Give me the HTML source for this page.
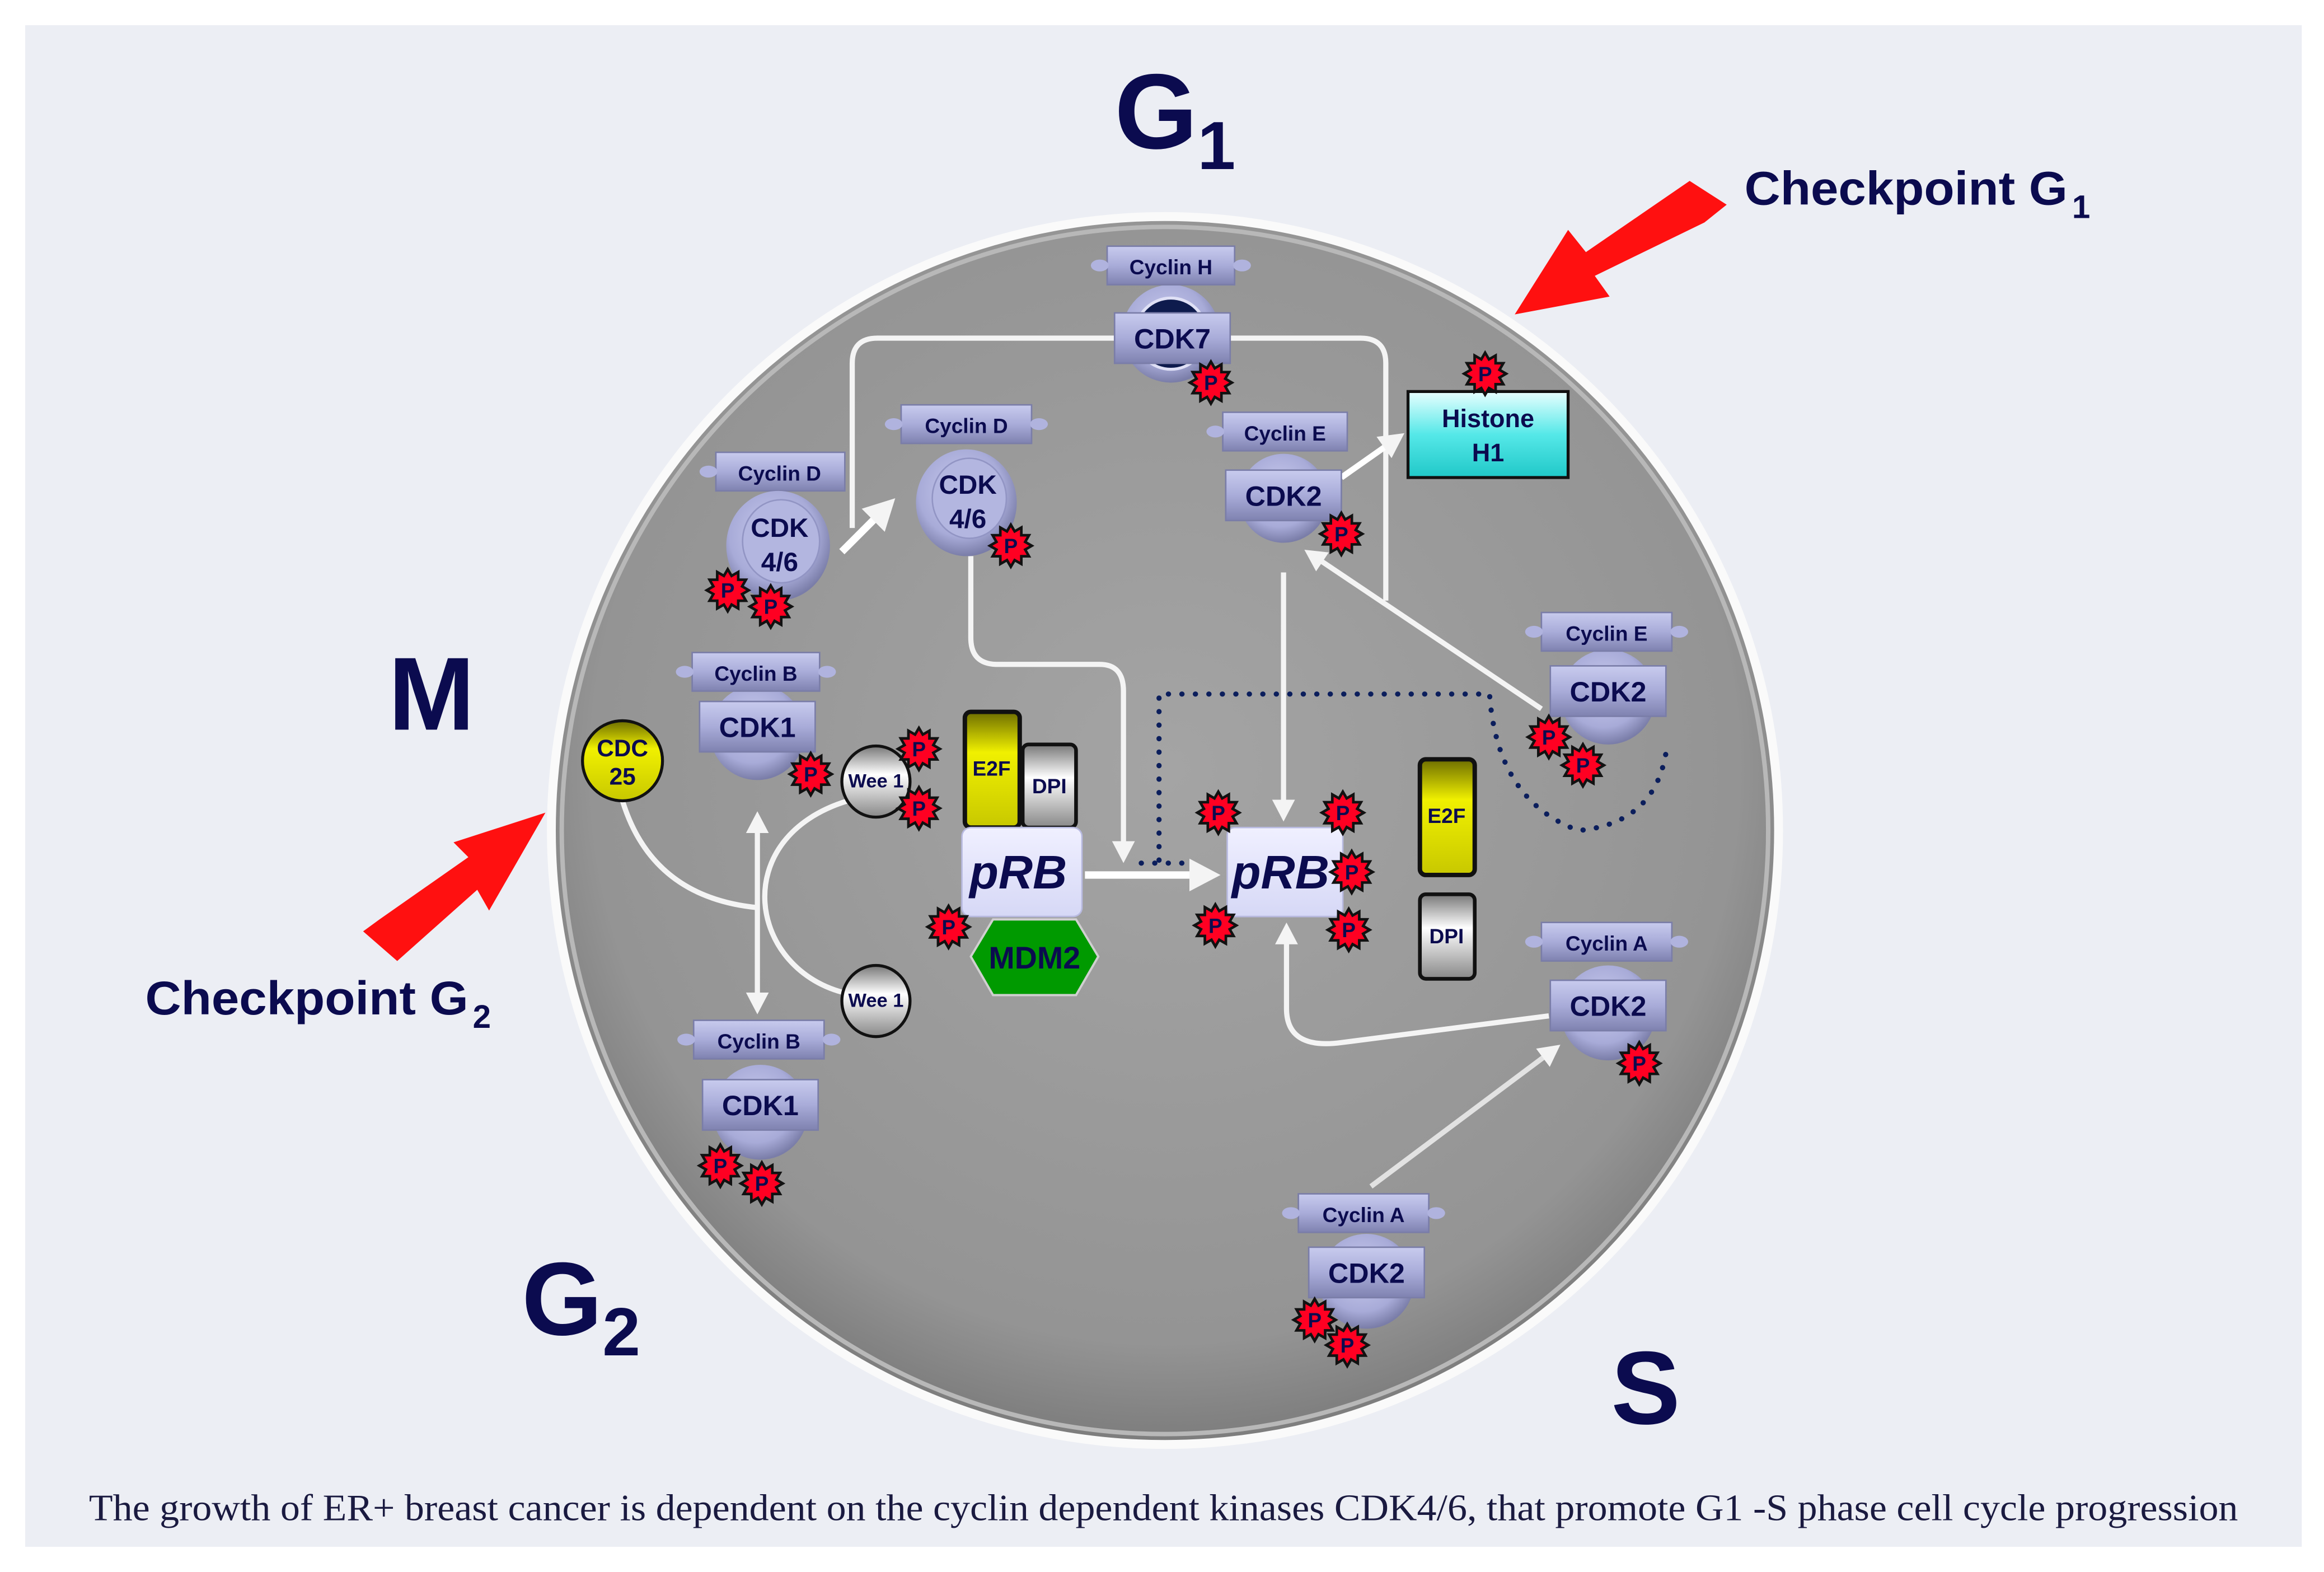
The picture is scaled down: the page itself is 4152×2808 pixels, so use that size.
<!DOCTYPE html>
<html><head><meta charset="utf-8"><style>
html,body{margin:0;padding:0;background:#fff}
svg{display:block}
text{font-family:"Liberation Sans",sans-serif;font-weight:bold;fill:#0b0b4f}
</style></head><body>
<svg width="4152" height="2808" viewBox="0 0 1568 1060" preserveAspectRatio="none" xmlns="http://www.w3.org/2000/svg">
<defs>
<radialGradient id="cell" cx="50%" cy="45%" r="55%"><stop offset="0" stop-color="#a4a4a4"/><stop offset="0.85" stop-color="#949494"/><stop offset="1" stop-color="#7c7c7c"/></radialGradient>
<linearGradient id="cyc" x1="0" y1="0" x2="0" y2="1"><stop offset="0" stop-color="#c8cbee"/><stop offset="0.5" stop-color="#a9acd9"/><stop offset="1" stop-color="#7f82b0"/></linearGradient>
<radialGradient id="cdkc" cx="45%" cy="40%" r="60%"><stop offset="0" stop-color="#c9cbee"/><stop offset="0.7" stop-color="#a8abd8"/><stop offset="1" stop-color="#7a7da8"/></radialGradient>
<linearGradient id="yel" x1="0" y1="0" x2="0" y2="1"><stop offset="0" stop-color="#6d6d00"/><stop offset="0.35" stop-color="#f0f000"/><stop offset="1" stop-color="#c8c800"/></linearGradient>
<linearGradient id="gry" x1="0" y1="0" x2="0" y2="1"><stop offset="0" stop-color="#777"/><stop offset="0.4" stop-color="#fff"/><stop offset="1" stop-color="#888"/></linearGradient>
<linearGradient id="cyan" x1="0" y1="0" x2="0" y2="1"><stop offset="0" stop-color="#e8ffff"/><stop offset="0.5" stop-color="#55e8e8"/><stop offset="1" stop-color="#20c8c8"/></linearGradient>
<linearGradient id="prb" x1="0" y1="0" x2="0" y2="1"><stop offset="0" stop-color="#f0f0ff"/><stop offset="1" stop-color="#d6d8f6"/></linearGradient>
<g id="star"><path transform="scale(1.18)" d="M12,0 L8.21,2.2 L10.39,6 L6.01,6.01 L6,10.39 L2.2,8.21 L0,12 L-2.2,8.21 L-6,10.39 L-6.01,6.01 L-10.39,6 L-8.21,2.2 L-12,0 L-8.21,-2.2 L-10.39,-6 L-6.01,-6.01 L-6,-10.39 L-2.2,-8.21 L0,-12 L2.2,-8.21 L6,-10.39 L6.01,-6.01 L10.39,-6 L8.21,-2.2 Z" fill="#ff0022" stroke="#111" stroke-width="1.5"/></g>
<marker id="ah" markerWidth="5" markerHeight="5" refX="2.5" refY="2.5" orient="auto" markerUnits="strokeWidth"><path d="M0,0.3 L4.2,2.5 L0,4.7 Z" fill="#f4f4f4"/></marker>
<marker id="ahs" markerWidth="5" markerHeight="5" refX="0.5" refY="2.5" orient="auto-start-reverse" markerUnits="strokeWidth"><path d="M0,0.3 L4.2,2.5 L0,4.7 Z" fill="#f4f4f4"/></marker>
</defs>
<rect width="1568" height="1060" fill="#fff"/>
<rect x="17" y="17" width="1536" height="1026" fill="#eceef4"/>

<circle cx="786" cy="560" r="414" fill="url(#cell)" stroke="#fafafa" stroke-width="6"/>
<circle cx="786" cy="560" r="407" fill="none" stroke="#b8b8b8" stroke-width="3"/>

<text x="752" y="100" font-size="72">G<tspan font-size="46" dy="14">1</tspan></text>
<text x="262" y="492" font-size="70">M</text>
<text x="352" y="900" font-size="70">G<tspan font-size="46" dy="14">2</tspan></text>
<text x="1087" y="960" font-size="70">S</text>
<text x="1177" y="138" font-size="32" textLength="218" lengthAdjust="spacingAndGlyphs">Checkpoint G</text><text x="1398" y="147" font-size="22">1</text>
<text x="98" y="684" font-size="32" textLength="218" lengthAdjust="spacingAndGlyphs">Checkpoint G</text><text x="319" y="693" font-size="22">2</text>

<polygon points="1165,138 1140,122 1070,170 1058,155 1022,212 1086,200 1076,186 1150,150" fill="#ff1010"/>
<polygon points="245,628 268,648 322,600 330,614 368,548 306,568 316,578 256,620" fill="#ff1010"/>

<g fill="none" stroke="#f4f4f4" stroke-width="3.5">
<path d="M575,356 V245 Q575,228 592,228 H752"/>
<path d="M830,228 H918 Q935,228 935,245 V405"/>
<path d="M655,375 V430 Q655,448 673,448 H742 Q758,448 758,466 V576" marker-end="url(#ah)"/>
<path d="M866,386 V548" marker-end="url(#ah)"/>
<path d="M1040,478 L885,374" marker-end="url(#ah)"/>
<path d="M1045,685 L905,703 Q868,708 868,680 V628" marker-end="url(#ah)"/>
<path d="M925,800 L1048,708" marker-end="url(#ah)" stroke="#e2e2e2"/>
<path d="M511,560 V678" marker-end="url(#ah)" marker-start="url(#ahs)"/>
<path d="M420,540 Q440,605 511,612"/>
<path d="M572,540 C490,565 505,655 572,670"/>
</g>
<path d="M568,372 L598,342" stroke="#fff" stroke-width="5" marker-end="url(#ah)"/>
<path d="M905,322 L942,296" stroke="#fff" stroke-width="4" marker-end="url(#ah)"/>
<path d="M732,590 L815,590" stroke="#fff" stroke-width="5" marker-end="url(#ah)"/>

<path d="M782,580 V468 H1005 Q1010,540 1065,560 Q1120,555 1125,500" fill="none" stroke="#0b1e5c" stroke-width="3.5" stroke-dasharray="0.1,9" stroke-linecap="round"/>
<path d="M770,582 H800" fill="none" stroke="#0b1e5c" stroke-width="3.5" stroke-dasharray="0.1,9" stroke-linecap="round"/>

<circle cx="790" cy="225" r="33" fill="url(#cdkc)"/>
<circle cx="790" cy="225" r="24" fill="#0e1b4d" stroke="#dfe0f5" stroke-width="2"/>
<g><rect x="747" y="166" width="86" height="26" fill="url(#cyc)" stroke="#7a7da8"/><ellipse cx="742" cy="179" rx="6" ry="4" fill="#b0b3de"/><ellipse cx="838" cy="179" rx="6" ry="4" fill="#b0b3de"/><text x="790" y="185" font-size="14" text-anchor="middle">Cyclin H</text></g>
<rect x="752" y="211" width="78" height="34" fill="url(#cyc)" stroke="#7a7da8"/><text x="791" y="235" font-size="19" text-anchor="middle">CDK7</text>
<use href="#star" x="817" y="258"/><text x="817" y="263" font-size="14" text-anchor="middle">P</text>

<g><rect x="483" y="305" width="87" height="26" fill="url(#cyc)" stroke="#7a7da8"/><ellipse cx="478" cy="318" rx="6" ry="4" fill="#b0b3de"/><text x="526" y="324" font-size="14" text-anchor="middle">Cyclin D</text></g>
<ellipse cx="525" cy="368" rx="35" ry="37" fill="url(#cdkc)"/><ellipse cx="527" cy="365" rx="26" ry="28" fill="#b3b6e0" stroke="#9295c4"/>
<text x="526" y="362" font-size="18" text-anchor="middle">CDK</text><text x="526" y="385" font-size="18" text-anchor="middle">4/6</text>
<use href="#star" x="491" y="398"/><text x="491" y="403" font-size="14" text-anchor="middle">P</text>
<use href="#star" x="520" y="409"/><text x="520" y="414" font-size="14" text-anchor="middle">P</text>

<g><rect x="608" y="273" width="88" height="26" fill="url(#cyc)" stroke="#7a7da8"/><ellipse cx="603" cy="286" rx="6" ry="4" fill="#b0b3de"/><ellipse cx="701" cy="286" rx="6" ry="4" fill="#b0b3de"/><text x="652" y="292" font-size="14" text-anchor="middle">Cyclin D</text></g>
<ellipse cx="652" cy="339" rx="34" ry="36" fill="url(#cdkc)"/><ellipse cx="654" cy="336" rx="25" ry="27" fill="#b3b6e0" stroke="#9295c4"/>
<text x="653" y="333" font-size="18" text-anchor="middle">CDK</text><text x="653" y="356" font-size="18" text-anchor="middle">4/6</text>
<use href="#star" x="682" y="368"/><text x="682" y="373" font-size="14" text-anchor="middle">P</text>

<circle cx="866" cy="336" r="30" fill="url(#cdkc)"/>
<g><rect x="825" y="278" width="84" height="26" fill="url(#cyc)" stroke="#7a7da8"/><ellipse cx="820" cy="291" rx="6" ry="4" fill="#b0b3de"/><text x="867" y="297" font-size="14" text-anchor="middle">Cyclin E</text></g>
<rect x="827" y="317" width="78" height="34" fill="url(#cyc)" stroke="#7a7da8"/><text x="866" y="341" font-size="19" text-anchor="middle">CDK2</text>
<use href="#star" x="905" y="360"/><text x="905" y="365" font-size="14" text-anchor="middle">P</text>

<rect x="950" y="264" width="108" height="58" fill="url(#cyan)" stroke="#111" stroke-width="2"/>
<text x="1004" y="288" font-size="17" text-anchor="middle">Histone</text><text x="1004" y="311" font-size="17" text-anchor="middle">H1</text>
<use href="#star" x="1002" y="252"/><text x="1002" y="257" font-size="14" text-anchor="middle">P</text>

<circle cx="1085" cy="470" r="32" fill="url(#cdkc)"/>
<g><rect x="1040" y="413" width="88" height="26" fill="url(#cyc)" stroke="#7a7da8"/><ellipse cx="1035" cy="426" rx="6" ry="4" fill="#b0b3de"/><ellipse cx="1133" cy="426" rx="6" ry="4" fill="#b0b3de"/><text x="1084" y="432" font-size="14" text-anchor="middle">Cyclin E</text></g>
<rect x="1046" y="449" width="78" height="34" fill="url(#cyc)" stroke="#7a7da8"/><text x="1085" y="473" font-size="19" text-anchor="middle">CDK2</text>
<use href="#star" x="1045" y="497"/><text x="1045" y="502" font-size="14" text-anchor="middle">P</text>
<use href="#star" x="1068" y="516"/><text x="1068" y="521" font-size="14" text-anchor="middle">P</text>

<circle cx="511" cy="494" r="32" fill="url(#cdkc)"/>
<g><rect x="467" y="440" width="86" height="26" fill="url(#cyc)" stroke="#7a7da8"/><ellipse cx="462" cy="453" rx="6" ry="4" fill="#b0b3de"/><ellipse cx="558" cy="453" rx="6" ry="4" fill="#b0b3de"/><text x="510" y="459" font-size="14" text-anchor="middle">Cyclin B</text></g>
<rect x="472" y="473" width="78" height="34" fill="url(#cyc)" stroke="#7a7da8"/><text x="511" y="497" font-size="19" text-anchor="middle">CDK1</text>
<use href="#star" x="547" y="522"/><text x="547" y="527" font-size="14" text-anchor="middle">P</text>

<circle cx="420" cy="513" r="27" fill="url(#yel)" stroke="#111" stroke-width="2"/>
<text x="420" y="510" font-size="16" text-anchor="middle">CDC</text><text x="420" y="529" font-size="16" text-anchor="middle">25</text>

<ellipse cx="591" cy="527" rx="23" ry="24" fill="url(#gry)" stroke="#111" stroke-width="2"/><text x="591" y="531" font-size="13" text-anchor="middle">Wee 1</text>
<use href="#star" x="620" y="505"/><text x="620" y="510" font-size="14" text-anchor="middle">P</text>
<use href="#star" x="620" y="545"/><text x="620" y="550" font-size="14" text-anchor="middle">P</text>
<ellipse cx="591" cy="675" rx="23" ry="24" fill="url(#gry)" stroke="#111" stroke-width="2"/><text x="591" y="679" font-size="13" text-anchor="middle">Wee 1</text>

<rect x="651" y="480" width="37" height="78" rx="4" fill="url(#yel)" stroke="#111" stroke-width="3"/><text x="669" y="523" font-size="14" text-anchor="middle">E2F</text>
<rect x="690" y="502" width="36" height="56" rx="4" fill="url(#gry)" stroke="#111" stroke-width="2.5"/><text x="708" y="535" font-size="14" text-anchor="middle">DPI</text>
<rect x="649" y="558" width="81" height="60" rx="6" fill="url(#prb)" stroke="#b8bae0"/>
<text x="687" y="599" font-size="32" font-style="italic" text-anchor="middle">pRB</text>
<use href="#star" x="640" y="625"/><text x="640" y="630" font-size="14" text-anchor="middle">P</text>
<polygon points="655,645 670,620 726,620 741,645 726,671 670,671" fill="#009a00" stroke="#d0d0d0" stroke-width="1.5"/>
<text x="698" y="653" font-size="21" text-anchor="middle">MDM2</text>

<rect x="828" y="558" width="78" height="60" rx="5" fill="url(#prb)" stroke="#b8bae0"/>
<text x="864" y="599" font-size="32" font-style="italic" text-anchor="middle">pRB</text>
<use href="#star" x="822" y="548"/><text x="822" y="553" font-size="14" text-anchor="middle">P</text>
<use href="#star" x="906" y="548"/><text x="906" y="553" font-size="14" text-anchor="middle">P</text>
<use href="#star" x="912" y="588"/><text x="912" y="593" font-size="14" text-anchor="middle">P</text>
<use href="#star" x="820" y="624"/><text x="820" y="629" font-size="14" text-anchor="middle">P</text>
<use href="#star" x="910" y="627"/><text x="910" y="632" font-size="14" text-anchor="middle">P</text>

<rect x="958" y="512" width="37" height="78" rx="4" fill="url(#yel)" stroke="#111" stroke-width="3"/><text x="976" y="555" font-size="14" text-anchor="middle">E2F</text>
<rect x="958" y="603" width="37" height="57" rx="4" fill="url(#gry)" stroke="#111" stroke-width="2.5"/><text x="976" y="636" font-size="14" text-anchor="middle">DPI</text>

<circle cx="1085" cy="683" r="32" fill="url(#cdkc)"/>
<g><rect x="1040" y="622" width="88" height="26" fill="url(#cyc)" stroke="#7a7da8"/><ellipse cx="1035" cy="635" rx="6" ry="4" fill="#b0b3de"/><ellipse cx="1133" cy="635" rx="6" ry="4" fill="#b0b3de"/><text x="1084" y="641" font-size="14" text-anchor="middle">Cyclin A</text></g>
<rect x="1046" y="661" width="78" height="34" fill="url(#cyc)" stroke="#7a7da8"/><text x="1085" y="685" font-size="19" text-anchor="middle">CDK2</text>
<use href="#star" x="1106" y="717"/><text x="1106" y="722" font-size="14" text-anchor="middle">P</text>

<circle cx="513" cy="750" r="32" fill="url(#cdkc)"/>
<g><rect x="468" y="688" width="88" height="26" fill="url(#cyc)" stroke="#7a7da8"/><ellipse cx="463" cy="701" rx="6" ry="4" fill="#b0b3de"/><ellipse cx="561" cy="701" rx="6" ry="4" fill="#b0b3de"/><text x="512" y="707" font-size="14" text-anchor="middle">Cyclin B</text></g>
<rect x="474" y="728" width="78" height="34" fill="url(#cyc)" stroke="#7a7da8"/><text x="513" y="752" font-size="19" text-anchor="middle">CDK1</text>
<use href="#star" x="486" y="786"/><text x="486" y="791" font-size="14" text-anchor="middle">P</text>
<use href="#star" x="514" y="798"/><text x="514" y="803" font-size="14" text-anchor="middle">P</text>

<circle cx="922" cy="864" r="32" fill="url(#cdkc)"/>
<g><rect x="876" y="805" width="88" height="26" fill="url(#cyc)" stroke="#7a7da8"/><ellipse cx="871" cy="818" rx="6" ry="4" fill="#b0b3de"/><ellipse cx="969" cy="818" rx="6" ry="4" fill="#b0b3de"/><text x="920" y="824" font-size="14" text-anchor="middle">Cyclin A</text></g>
<rect x="883" y="841" width="78" height="34" fill="url(#cyc)" stroke="#7a7da8"/><text x="922" y="865" font-size="19" text-anchor="middle">CDK2</text>
<use href="#star" x="887" y="890"/><text x="887" y="895" font-size="14" text-anchor="middle">P</text>
<use href="#star" x="909" y="907"/><text x="909" y="912" font-size="14" text-anchor="middle">P</text>

<text x="60" y="1025" font-size="25" textLength="1450" lengthAdjust="spacingAndGlyphs" style="font-family:'Liberation Serif',serif;font-weight:normal;fill:#1a1a40">The growth of ER+ breast cancer is dependent on the cyclin dependent kinases CDK4/6, that promote G1 -S phase cell cycle progression</text>
</svg>
</body></html>
